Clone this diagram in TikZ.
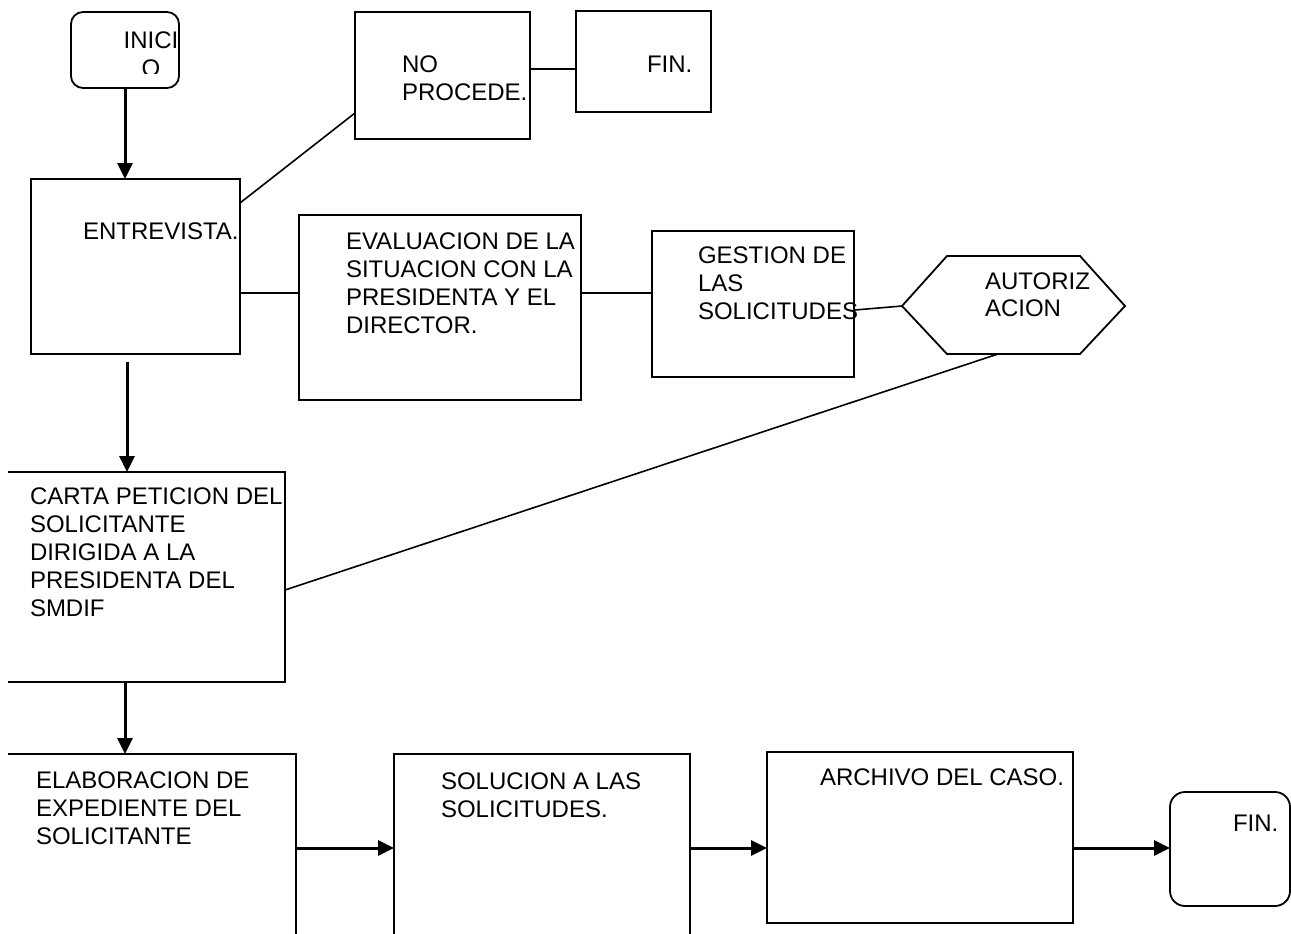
\documentclass[tikz,border=0pt]{standalone}
\usepackage{fontspec}
\setmainfont{Liberation Sans}
\usetikzlibrary{arrows.meta,calc}
\begin{document}
\begin{tikzpicture}[x=1pt,y=-1pt,
  box/.style={draw, line width=1.8pt, rectangle, inner sep=0pt, outer sep=0pt, anchor=north west},
  openbox/.style={box, draw=none},
  txt/.style={inner sep=0pt, outer sep=0pt, anchor=north west, align=left, font=\fontsize{24}{28}\selectfont},
  link/.style={line width=1.6pt},
  flow/.style={line width=3pt, -{Triangle[length=16pt,width=15pt]}}]
\fill[white] (0,0) rectangle (1291,934);
\useasboundingbox (0,0) rectangle (1291,934);

% shapes
\node[box, rounded corners=12pt, minimum width=108pt, minimum height=76pt] (inicio) at (71,12) {};
\node[box, minimum width=209pt, minimum height=175pt] (entrevista) at (31,179) {};
\node[box, minimum width=175pt, minimum height=127pt] (noproc) at (355,12) {};
\node[box, minimum width=135pt, minimum height=101pt] (fin1) at (576,11) {};
\node[box, minimum width=282pt, minimum height=185pt] (eval) at (299,215) {};
\node[box, minimum width=202pt, minimum height=146pt] (gestion) at (652,231) {};
\coordinate (hexW) at (902,306);
\coordinate (hexNW) at (947,256);
\coordinate (hexNE) at (1080,256);
\coordinate (hexE) at (1125,306);
\coordinate (hexSE) at (1080,354);
\coordinate (hexSW) at (947,354);
\coordinate (hexS) at (998,354);
\draw[link, line width=1.8pt, line join=miter] (hexW) -- (hexNW) -- (hexNE) -- (hexE) -- (hexSE) -- (hexSW) -- cycle;
\node[openbox, minimum width=277pt, minimum height=210pt] (carta) at (8,472) {};
\draw[link, line width=1.8pt] (carta.north west) -| (carta.south east) -- (carta.south west);
\node[openbox, minimum width=288pt, minimum height=220pt] (elab) at (8,754) {};
\draw[link, line width=1.8pt] (elab.north west) -| (elab.south east);
\node[openbox, minimum width=296pt, minimum height=220pt] (sol) at (394,754) {};
\draw[link, line width=1.8pt] (sol.south west) |- (sol.north east) -- (sol.south east);
\node[box, minimum width=306pt, minimum height=171pt] (archivo) at (767,752) {};
\node[box, rounded corners=15pt, minimum width=120pt, minimum height=114pt] (fin2) at (1170,792) {};

% texts
\begin{scope}
\clip (71,12) rectangle (179,74);
\node[txt, anchor=north, align=center] (inicio-t) at (151,32) {INICI\\O};
\end{scope}
\node[txt] (entrevista-t) at (83,223) {ENTREVISTA.};
\node[txt] (noproc-t) at (402,56) {NO\\PROCEDE.};
\node[txt] (fin1-t) at (647,56) {FIN.};
\node[txt] (eval-t) at (346,233) {EVALUACION DE LA\\SITUACION CON LA\\PRESIDENTA Y EL\\DIRECTOR.};
\node[txt] (gestion-t) at (698,247) {GESTION DE\\LAS\\SOLICITUDES};
\node[txt, font=\fontsize{24}{27}\selectfont] (aut-t) at (985,273) {AUTORIZ\\ACION};
\node[txt] (carta-t) at (30,488) {CARTA PETICION DEL\\SOLICITANTE\\DIRIGIDA A LA\\PRESIDENTA DEL\\SMDIF};
\node[txt] (elab-t) at (36,772) {ELABORACION DE\\EXPEDIENTE DEL\\SOLICITANTE};
\node[txt] (sol-t) at (441,773) {SOLUCION A LAS\\SOLICITUDES.};
\node[txt] (archivo-t) at (820,769) {ARCHIVO DEL CASO.};
\node[txt] (fin2-t) at (1233,815) {FIN.};

% connectors
\draw[flow] (inicio.south) -- (inicio.south |- entrevista.north);
\draw[link] ($(entrevista.north east)+(0,24)$) -- ($(noproc.north west)+(0,101)$);
\draw[link] ($(entrevista.north east)+(0,114)$) -- ($(eval.north west)+(0,78)$);
\draw[link] ($(noproc.north east)+(0,57)$) -- ($(fin1.north west)+(0,58)$);
\draw[link] ($(eval.north east)+(0,78)$) -- ($(gestion.north west)+(0,62)$);
\draw[link] ($(gestion.north east)+(1,79)$) -- (hexW);
\draw[link] (hexS) -- ($(carta.north east)+(0,118)$);
\draw[flow] ($(entrevista.south west)+(96,8)$) -- ($(carta.north west)+(119,0)$);
\draw[flow] ($(carta.south west)+(117,0)$) -- ($(elab.north west)+(117,0)$);
\draw[flow] ($(elab.north east)+(0,94)$) -- ($(sol.north west)+(0,94)$);
\draw[flow] ($(sol.north east)+(0,94)$) -- ($(archivo.north west)+(0,96)$);
\draw[flow] ($(archivo.north east)+(0,96)$) -- ($(fin2.north west)+(0,56)$);
\end{tikzpicture}
\end{document}
